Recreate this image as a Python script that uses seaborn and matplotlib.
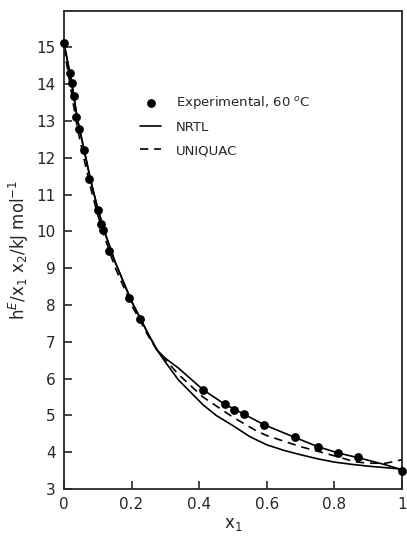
import numpy as np
import pandas as pd
import matplotlib
matplotlib.use("Agg")
import matplotlib.pyplot as plt
import seaborn as sns

# experimental points, 60 C
exp_x1 = [0.0, 0.018, 0.024, 0.030, 0.037, 0.045, 0.058, 0.075, 0.100, 0.110, 0.115,
          0.134, 0.192, 0.224, 0.411, 0.476, 0.503, 0.533, 0.591, 0.683, 0.751,
          0.810, 0.870, 1.0]
exp_h = [15.12, 14.31, 14.04, 13.67, 13.11, 12.79, 12.21, 11.43, 10.59, 10.20, 10.05,
         9.48, 8.19, 7.62, 5.69, 5.30, 5.15, 5.03, 4.75, 4.40, 4.15,
         3.99, 3.86, 3.50]

# NRTL (two curves, both solid)
nrtl_a_x1 = [0.0, 0.02, 0.04, 0.06, 0.08, 0.10, 0.12, 0.15, 0.20, 0.25, 0.275, 0.30,
             0.338, 0.411, 0.476, 0.533, 0.591, 0.683, 0.751, 0.81, 0.87, 0.95, 1.0]
nrtl_a_h = [15.12, 14.2, 13.05, 12.2, 11.35, 10.62, 10.0, 9.2, 8.1, 7.2, 6.78, 6.55,
            6.29, 5.70, 5.30, 5.03, 4.75, 4.40, 4.15, 3.98, 3.85, 3.66, 3.52]
nrtl_b_x1 = [0.0, 0.02, 0.04, 0.06, 0.08, 0.10, 0.12, 0.15, 0.20, 0.25, 0.275, 0.30,
             0.338, 0.411, 0.45, 0.50, 0.55, 0.60, 0.65, 0.70, 0.75, 0.80, 0.85,
             0.90, 0.95, 1.0]
nrtl_b_h = [15.12, 14.2, 13.05, 12.2, 11.35, 10.62, 10.0, 9.2, 8.1, 7.2, 6.78, 6.45,
            5.97, 5.29, 5.00, 4.72, 4.42, 4.20, 4.05, 3.93, 3.82, 3.73, 3.67,
            3.62, 3.58, 3.54]

# UNIQUAC
uniq_x1 = [0.0, 0.02, 0.04, 0.06, 0.08, 0.10, 0.12, 0.15, 0.20, 0.25, 0.275, 0.338,
           0.411, 0.50, 0.571, 0.60, 0.70, 0.80, 0.86, 0.90, 0.95, 0.98, 1.0]
uniq_h = [15.0, 13.9, 12.8, 11.95, 11.15, 10.45, 9.85, 9.05, 8.0, 7.15, 6.78, 6.12,
          5.50, 4.95, 4.57, 4.45, 4.15, 3.90, 3.74, 3.70, 3.70, 3.75, 3.80]

y_ticks = [3, 4, 5, 6, 7, 8, 9, 10, 11, 12, 13, 14, 15]
x_ticks = [0, 0.2, 0.4, 0.6, 0.8, 1.0]
x_labels = ["0", "0.2", "0.4", "0.6", "0.8", "1"]

sns.set_style("ticks")
plt.rcParams['font.family'] = ['DejaVu Sans']
plt.rcParams['mathtext.fontset'] = 'dejavusans'

fig = plt.figure(figsize=(4.07, 5.43), dpi=100)
ax = fig.add_axes([0.157, 0.0995, 0.831, 0.881])

exp_df = pd.DataFrame({'x1': exp_x1, 'h': exp_h})
sns.lineplot(x=nrtl_a_x1, y=nrtl_a_h, ax=ax, color='black', lw=1.2, sort=False,
             estimator=None, label='NRTL')
sns.lineplot(x=nrtl_b_x1, y=nrtl_b_h, ax=ax, color='black', lw=1.2, sort=False,
             estimator=None, label='_nolegend_')
sns.lineplot(x=uniq_x1, y=uniq_h, ax=ax, color='black', lw=1.2, sort=False,
             estimator=None, label='UNIQUAC', linestyle=(0, (5, 3.5)))
sns.scatterplot(data=exp_df, x='x1', y='h', ax=ax, color='black', s=40,
                edgecolor='black', linewidth=0, zorder=5, clip_on=False,
                label='Experimental, 60 $^{o}$C')

ax.set_xlim(0, 1)
ax.set_ylim(3, 16)
ax.set_yticks(y_ticks)
ax.set_xticks(x_ticks)
ax.set_xticklabels(x_labels)
ax.tick_params(direction='in', length=6, width=1.2, labelsize=11, pad=6,
               top=False, right=False)
for sp in ax.spines.values():
    sp.set_linewidth(1.3)
    sp.set_visible(True)

ax.set_xlabel('x$_1$', fontsize=12, labelpad=2)
ax.set_ylabel('$\\mathrm{h}^{E}/\\mathrm{x}_1\\ \\mathrm{x}_2/$kJ mol$^{-1}$',
              fontsize=12, labelpad=4)

# legend order: experimental, NRTL, UNIQUAC
handles, labels = ax.get_legend_handles_labels()
order = [labels.index('Experimental, 60 $^{o}$C'), labels.index('NRTL'),
         labels.index('UNIQUAC')]
ax.legend([handles[i] for i in order], [labels[i] for i in order],
          loc='upper left', bbox_to_anchor=(0.19, 0.85), frameon=False,
          fontsize=9.5, handlelength=1.6, handletextpad=1.1, labelspacing=0.75)

fig.savefig('out.png', dpi=100)
